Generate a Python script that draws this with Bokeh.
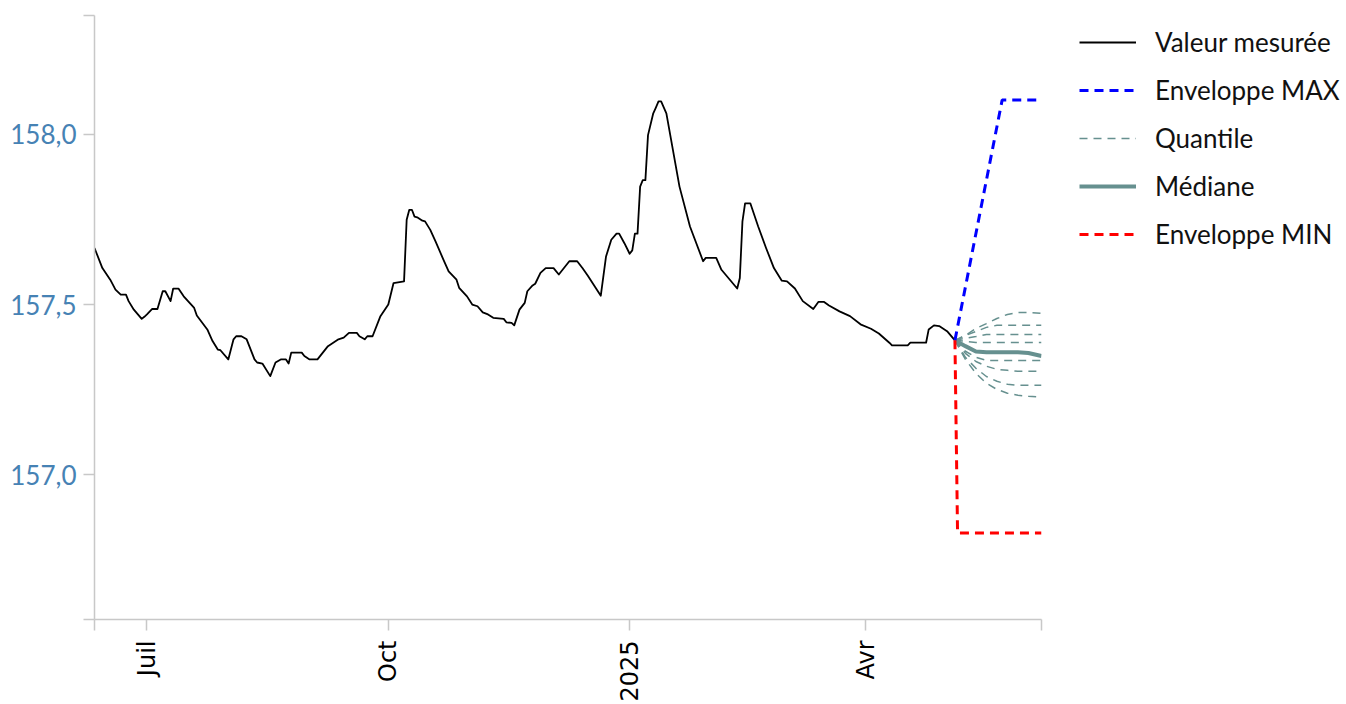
import math
import pandas as pd
from bokeh.plotting import figure
from bokeh.layouts import row
from bokeh.models import FixedTicker, Legend, LegendItem, Range1d
from bokeh.embed import file_html
from bokeh.resources import INLINE

# Measured water level (daily readings, key points)
obs_dates = [
    "2024-06-11", "2024-06-14", "2024-06-17", "2024-06-19", "2024-06-21", "2024-06-23",
    "2024-06-24", "2024-06-26", "2024-06-29", "2024-06-30", "2024-07-01", "2024-07-03",
    "2024-07-05", "2024-07-07", "2024-07-08", "2024-07-10", "2024-07-11", "2024-07-13",
    "2024-07-15", "2024-07-19", "2024-07-20", "2024-07-24", "2024-07-26", "2024-07-28",
    "2024-07-29", "2024-08-01", "2024-08-03", "2024-08-04", "2024-08-06", "2024-08-08",
    "2024-08-11", "2024-08-12", "2024-08-14", "2024-08-17", "2024-08-19", "2024-08-21",
    "2024-08-23", "2024-08-24", "2024-08-25", "2024-08-29", "2024-08-30", "2024-09-01",
    "2024-09-04", "2024-09-08", "2024-09-10", "2024-09-12", "2024-09-14", "2024-09-16",
    "2024-09-19", "2024-09-20", "2024-09-22", "2024-09-23", "2024-09-25", "2024-09-28",
    "2024-10-01", "2024-10-03", "2024-10-07", "2024-10-08", "2024-10-09", "2024-10-10",
    "2024-10-11", "2024-10-12", "2024-10-14", "2024-10-15", "2024-10-17", "2024-10-19",
    "2024-10-22", "2024-10-24", "2024-10-27", "2024-10-28", "2024-10-31", "2024-11-02",
    "2024-11-04", "2024-11-06", "2024-11-08", "2024-11-10", "2024-11-14", "2024-11-15",
    "2024-11-17", "2024-11-18", "2024-11-20", "2024-11-22", "2024-11-23", "2024-11-25",
    "2024-11-26", "2024-11-28", "2024-11-30", "2024-12-03", "2024-12-05", "2024-12-09",
    "2024-12-12", "2024-12-14", "2024-12-16", "2024-12-21", "2024-12-23", "2024-12-25",
    "2024-12-27", "2024-12-28", "2024-12-30", "2025-01-01", "2025-01-02", "2025-01-03",
    "2025-01-04", "2025-01-05", "2025-01-06", "2025-01-07", "2025-01-08", "2025-01-10",
    "2025-01-11", "2025-01-12", "2025-01-13", "2025-01-15", "2025-01-20", "2025-01-24",
    "2025-01-29", "2025-01-30", "2025-02-03", "2025-02-05", "2025-02-11", "2025-02-12",
    "2025-02-13", "2025-02-14", "2025-02-16", "2025-02-19", "2025-02-22", "2025-02-25",
    "2025-02-28", "2025-03-02", "2025-03-05", "2025-03-08", "2025-03-12", "2025-03-14",
    "2025-03-16", "2025-03-18", "2025-03-22", "2025-03-26", "2025-03-30", "2025-04-03",
    "2025-04-06", "2025-04-10", "2025-04-11", "2025-04-17", "2025-04-18", "2025-04-24",
    "2025-04-25", "2025-04-27", "2025-04-29", "2025-05-02", "2025-05-05",
]
obs_values = [
    157.666, 157.607, 157.573, 157.544, 157.529, 157.529,
    157.510, 157.485, 157.458, 157.464, 157.471, 157.487,
    157.487, 157.539, 157.539, 157.510, 157.547, 157.547,
    157.524, 157.490, 157.468, 157.427, 157.393, 157.368,
    157.366, 157.339, 157.398, 157.407, 157.407, 157.398,
    157.339, 157.330, 157.327, 157.290, 157.330, 157.339,
    157.339, 157.327, 157.359, 157.359, 157.349, 157.339,
    157.339, 157.378, 157.388, 157.398, 157.403, 157.417,
    157.417, 157.407, 157.398, 157.407, 157.407, 157.466,
    157.500, 157.563, 157.568, 157.749, 157.778, 157.778,
    157.758, 157.756, 157.746, 157.744, 157.719, 157.685,
    157.632, 157.597, 157.573, 157.549, 157.524, 157.500,
    157.495, 157.477, 157.471, 157.461, 157.458, 157.448,
    157.446, 157.439, 157.485, 157.505, 157.539, 157.556,
    157.561, 157.593, 157.607, 157.607, 157.588, 157.627,
    157.627, 157.607, 157.585, 157.526, 157.641, 157.690,
    157.708, 157.708, 157.680, 157.649, 157.659, 157.708,
    157.708, 157.846, 157.865, 157.865, 157.997, 158.061,
    158.078, 158.096, 158.096, 158.061, 157.846, 157.729,
    157.627, 157.637, 157.637, 157.602, 157.547, 157.578,
    157.744, 157.797, 157.797, 157.729, 157.666, 157.607,
    157.570, 157.568, 157.547, 157.510, 157.487, 157.508,
    157.508, 157.497, 157.480, 157.466, 157.442, 157.429,
    157.415, 157.388, 157.380, 157.380, 157.388, 157.388,
    157.427, 157.439, 157.437, 157.422, 157.395,
]

# Forecast: common dates for the quantile fan and the median
fc_dates = ["2025-05-05", "2025-05-09", "2025-05-13", "2025-05-17", "2025-05-21",
            "2025-05-25", "2025-05-29", "2025-06-02", "2025-06-07"]
quantiles = [
    [157.395, 157.409, 157.430, 157.444, 157.459, 157.471, 157.477, 157.477, 157.474],
    [157.395, 157.409, 157.421, 157.433, 157.439, 157.439, 157.439, 157.439, 157.439],
    [157.395, 157.401, 157.406, 157.412, 157.412, 157.412, 157.412, 157.412, 157.412],
    [157.395, 157.392, 157.389, 157.389, 157.389, 157.389, 157.389, 157.389, 157.389],
    [157.395, 157.363, 157.345, 157.336, 157.336, 157.336, 157.336, 157.336, 157.336],
    [157.395, 157.357, 157.333, 157.319, 157.310, 157.307, 157.304, 157.304, 157.304],
    [157.395, 157.345, 157.313, 157.289, 157.275, 157.266, 157.263, 157.263, 157.263],
    [157.395, 157.339, 157.298, 157.269, 157.251, 157.240, 157.234, 157.231, 157.228],
]
median = [157.395, 157.378, 157.362, 157.360, 157.360, 157.360, 157.360, 157.358, 157.349]

env_max_dates = ["2025-05-05", "2025-05-23", "2025-06-07"]
env_max_values = [157.395, 158.10, 158.10]
env_min_dates = ["2025-05-05", "2025-05-06", "2025-06-07"]
env_min_values = [157.395, 156.83, 156.83]

x_tick_dates = ["2024-07-01", "2024-10-01", "2025-01-01", "2025-04-01"]
x_tick_labels = ["Juil", "Oct", "2025", "Avr"]
y_tick_values = [157.0, 157.5, 158.0]
y_tick_labels = ["157,0", "157,5", "158,0"]

x_start, x_end = "2024-06-11", "2025-06-07"
y_lo, y_hi = 156.576, 158.348


def ms(d):
    return pd.Timestamp(d).value / 1e6


def ts(ds):
    return pd.to_datetime(ds)


AXIS_GREY = "#c8c8c8"
Q_COLOR = "#66908f"

# line styles shared by the chart and its legend
STYLES = {
    "obs": dict(line_color="black", line_width=1.8, line_join="round"),
    "max": dict(line_color="#0000ff", line_width=3, line_dash="9 6"),
    "q": dict(line_color=Q_COLOR, line_width=1.5, line_dash="8 6"),
    "med": dict(line_color=Q_COLOR, line_width=4),
    "min": dict(line_color="#ff0000", line_width=3, line_dash="9 6"),
}

p = figure(
    width=1043, height=704,
    x_axis_type="datetime",
    x_range=Range1d(ms(x_start), ms(x_end)),
    y_range=Range1d(y_lo, y_hi),
    output_backend="svg", toolbar_location=None,
    min_border_left=94, min_border_right=2,
    min_border_top=15, min_border_bottom=83,
)
p.outline_line_color = None
p.grid.visible = False
p.background_fill_color = "white"
p.border_fill_color = "white"

# x axis: month ticks plus blank ticks at both ends of the axis
xt = [ms(x_start)] + [ms(d) for d in x_tick_dates] + [ms(x_end)]
p.xaxis.ticker = FixedTicker(ticks=xt)
x_over = {t: "" for t in xt}
for d, lab in zip(x_tick_dates, x_tick_labels):
    x_over[ms(d)] = lab
p.xaxis.major_label_overrides = x_over
p.xaxis.major_label_orientation = math.pi / 2
p.xaxis.major_label_text_font = "DejaVu Sans"
p.xaxis.major_label_text_font_size = "24px"
p.xaxis.major_label_text_color = "black"
p.xaxis.major_label_standoff = 10

yt = [y_lo] + y_tick_values + [y_hi]
p.yaxis.ticker = FixedTicker(ticks=yt)
y_over = {t: "" for t in yt}
for v, lab in zip(y_tick_values, y_tick_labels):
    y_over[v] = lab
p.yaxis.major_label_overrides = y_over
p.yaxis.major_label_text_font = "Lato"
p.yaxis.major_label_text_font_size = "26px"
p.yaxis.major_label_text_color = "#4682b4"
p.yaxis.major_label_standoff = 7

for ax in (p.xaxis, p.yaxis):
    ax.axis_line_color = AXIS_GREY
    ax.axis_line_width = 1.5
    ax.major_tick_line_color = AXIS_GREY
    ax.major_tick_line_width = 1.5
    ax.major_tick_out = 11
    ax.major_tick_in = 0
    ax.minor_tick_line_color = None

p.line(ts(obs_dates), obs_values, **STYLES["obs"])
for q in quantiles:
    p.line(ts(fc_dates), q, **STYLES["q"])
p.line(ts(fc_dates), median, **STYLES["med"])
p.line(ts(env_max_dates), env_max_values, **STYLES["max"])
p.line(ts(env_min_dates), env_min_values, **STYLES["min"])

# Legend panel to the right of the chart (its frame is aligned with the chart's)
leg_fig = figure(
    width=303, height=704, x_range=Range1d(0, 1), y_range=Range1d(0, 1),
    output_backend="svg", toolbar_location=None, min_border=0,
)
leg_fig.axis.visible = False
leg_fig.grid.visible = False
leg_fig.outline_line_color = None

legend_entries = [
    ("Valeur mesurée", "obs"),
    ("Enveloppe MAX", "max"),
    ("Quantile", "q"),
    ("Médiane", "med"),
    ("Enveloppe MIN", "min"),
]
items = []
for label, key in legend_entries:
    # placeholder glyph outside the visible range, only used for its swatch
    r = leg_fig.line([2, 3], [2, 2], **STYLES[key])
    items.append(LegendItem(label=label, renderers=[r]))

legend = Legend(
    items=items,
    location=(36, 369),
    orientation="vertical",
    glyph_width=57, glyph_height=20,
    label_standoff=19,
    label_text_font="Lato", label_text_font_size="26px",
    label_text_color="#111111",
    spacing=16, padding=0, margin=0,
    border_line_color=None, background_fill_alpha=0,
)
leg_fig.add_layout(legend, "center")

layout = row(p, leg_fig, spacing=0)
open("out.html", "w").write(file_html(layout, INLINE))
